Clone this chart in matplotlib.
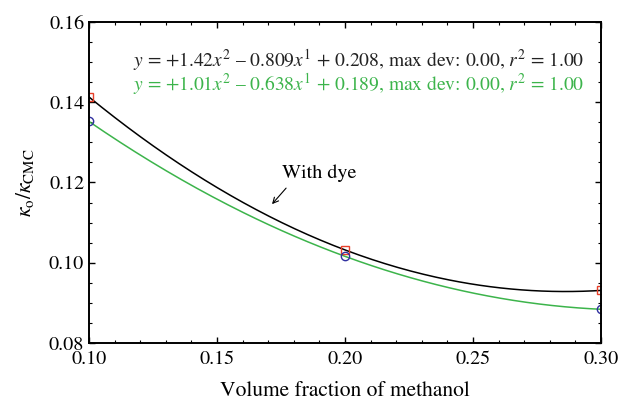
import numpy as np
import matplotlib
matplotlib.use("Agg")
import matplotlib.pyplot as plt
from matplotlib.ticker import MultipleLocator

plt.rcParams['font.family'] = ['STIXGeneral', 'DejaVu Serif']
plt.rcParams['mathtext.fontset'] = 'stix'

# measured points
x_data = [0.10, 0.20, 0.30]
y_dye = [0.1413, 0.1032, 0.0931]      # red squares, black fit
y_nodye = [0.1352, 0.1016, 0.0884]    # blue circles, green fit

eq_black = r"$y$ = +1.42$x^2$ – 0.809$x^1$ + 0.208, max dev: 0.00, $r^2$ = 1.00"
eq_green = r"$y$ = +1.01$x^2$ – 0.638$x^1$ + 0.189, max dev: 0.00, $r^2$ = 1.00"

green = '#3cb44b'

fig = plt.figure(figsize=(6.19, 4.04), dpi=100)
ax = fig.add_axes([0.1438, 0.151, 0.827, 0.7946])

xs = np.linspace(0.10, 0.30, 200)
p_dye = np.polyfit(x_data, y_dye, 2)
p_nodye = np.polyfit(x_data, y_nodye, 2)
ax.plot(xs, np.polyval(p_dye, xs), color='black', lw=1.1)
ax.plot(xs, np.polyval(p_nodye, xs), color=green, lw=1.1)

ax.plot(x_data, y_dye, 's', ms=6, mfc='none', mec='#e8402a', mew=1.0)
ax.plot(x_data, y_nodye, 'o', ms=6, mfc='none', mec='#3030a0', mew=1.0)

ax.set_xlim(0.10, 0.30)
ax.set_ylim(0.08, 0.16)
ax.xaxis.set_major_locator(MultipleLocator(0.05))
ax.xaxis.set_minor_locator(MultipleLocator(0.01))
ax.yaxis.set_major_locator(MultipleLocator(0.02))
ax.yaxis.set_minor_locator(MultipleLocator(0.005))
ax.xaxis.set_major_formatter(lambda v, p: f"{v:.2f}")
ax.yaxis.set_major_formatter(lambda v, p: f"{v:.2f}")
ax.tick_params(which='both', direction='in', top=True, right=True, labelsize=14.5)
ax.tick_params(which='major', length=4, width=1)
ax.tick_params(which='minor', length=2.5, width=0.8)
ax.tick_params(axis='x', pad=6)
for s in ax.spines.values():
    s.set_linewidth(1.4)

ax.text(0.1172, 0.1490, eq_black, fontsize=14, color='#222222')
ax.text(0.1172, 0.1430, eq_green, fontsize=14, color=green)

ax.text(0.1754, 0.1211, 'With dye', fontsize=14.5)
ax.annotate('', xy=(0.1715, 0.1146), xytext=(0.1770, 0.1186),
            arrowprops=dict(arrowstyle='->', lw=0.8, color='black',
                            shrinkA=0, shrinkB=0))

ax.set_xlabel('Volume fraction of methanol', fontsize=15.5, labelpad=9)
ax.set_ylabel(r"$\kappa_{\rm o}/\kappa_{\rm CMC}$", fontsize=15.5, labelpad=9)

fig.savefig('out.png', dpi=100)
